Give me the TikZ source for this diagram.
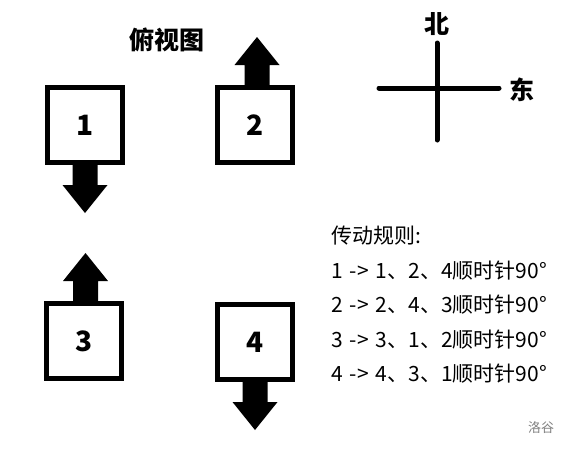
\documentclass[tikz,border=0pt]{standalone}
\usepackage{fontspec}
\newfontfamily\cjk{Noto Sans CJK SC}
\newfontfamily\cjkw[WordSpace=1.5]{Noto Sans CJK SC}
\tikzset{
  x=1pt,y=-1pt,
  box/.style={draw,line width=5pt,minimum size=75pt,inner sep=0pt,font=\cjk\bfseries\fontsize{28}{30}\selectfont},
  bigtxt/.style={font=\cjk\bfseries\fontsize{25}{27}\selectfont,inner sep=0pt},
  rule/.style={font=\cjkw\fontsize{21}{23}\selectfont,anchor=west,inner sep=0pt},
  compass/.style={line width=5pt,line cap=round},
  blockarrow/.pic={\fill (-12.5,-2) -- (-12.5,20) -- (-22.5,20) -- (0,48) -- (22.5,20) -- (12.5,20) -- (12.5,-2) -- cycle;}
}
\begin{document}
\begin{tikzpicture}
\useasboundingbox (0,0) rectangle (569,448);
\node[bigtxt] (title) at (167,40) {俯视图};
\node[box] (b1) at (85,125) {1};
\node[box] (b2) at (255,125) {2};
\node[box] (b3) at (84,341) {3};
\node[box] (b4) at (255,342) {4};
\pic at (b1.south) {blockarrow};
\pic[rotate=180] at ([xshift=2pt]b2.north) {blockarrow};
\pic[rotate=180] at ([xshift=1.5pt]b3.north) {blockarrow};
\pic at (b4.south) {blockarrow};
\coordinate (n) at (437,43);
\coordinate (s) at (437,140);
\coordinate (w) at (379,88);
\coordinate (e) at (499,88);
\draw[compass] (n) -- (s);
\draw[compass] (w) -- (e);
\node[bigtxt] (north) at (437,24) {北};
\node[bigtxt] (east) at (522,90) {东};
\node[rule] (r0) at (331,236) {传动规则:};
\node[rule] (r1) at (331,271) {1 -> 1、2、4顺时针90°};
\node[rule] (r2) at (331,305) {2 -> 2、4、3顺时针90°};
\node[rule] (r3) at (331,340) {3 -> 3、1、2顺时针90°};
\node[rule] (r4) at (331,374) {4 -> 4、3、1顺时针90°};
\node[font=\cjk\fontsize{13}{14}\selectfont,text=black!50,inner sep=0pt] (logo) at (541,428) {洛谷};
\end{tikzpicture}
\end{document}
